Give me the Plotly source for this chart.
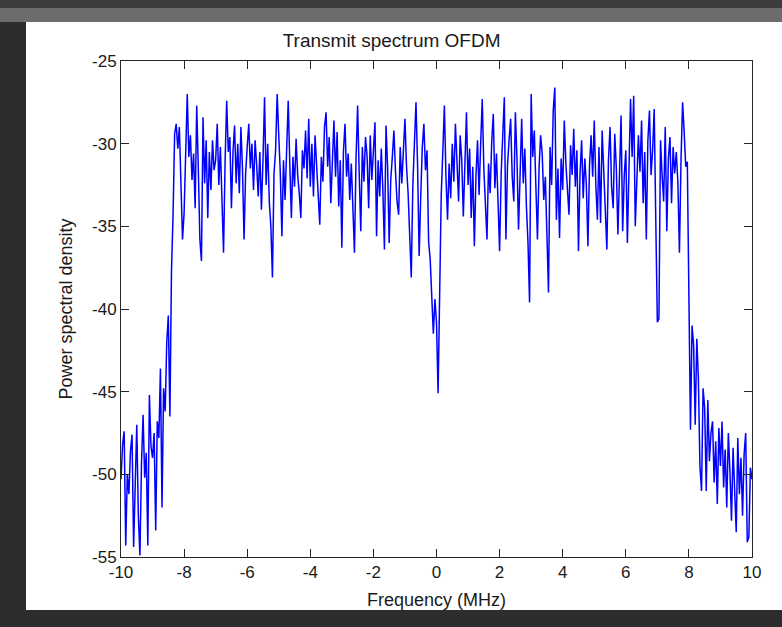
import numpy as np
import plotly.graph_objects as go

# ---------------- data ----------------
freq_start = -10.0   # MHz
freq_step = 0.05     # MHz

psd = [
    # -10.00 .. -9.05
    -50.3, -48.2, -47.4, -54.3, -50.0, -51.2, -48.6, -47.6, -54.4, -49.8,
    -47.0, -52.5, -54.9, -49.3, -46.4, -50.2, -48.7, -54.3, -45.2, -48.3,
    # -9.00 .. -8.05
    -49.0, -47.5, -53.4, -46.8, -47.8, -43.6, -52.0, -44.8, -46.2, -42.0,
    -40.4, -46.5, -37.7, -34.3, -29.4, -28.8, -30.3, -29.0, -32.6, -35.8,
    # -8.00 .. -7.05
    -34.2, -30.0, -27.0, -30.8, -29.5, -32.2, -30.6, -33.9, -27.7, -31.5,
    -35.8, -37.1, -28.4, -32.4, -29.8, -34.5, -30.5, -32.8, -29.8, -31.6,
    # -7.00 .. -6.05
    -31.0, -28.8, -32.5, -30.2, -33.5, -36.6, -31.0, -27.4, -30.5, -29.6,
    -33.9, -30.5, -28.9, -32.4, -30.0, -33.0, -29.0, -31.5, -35.8, -31.8,
    # -6.00 .. -5.05
    -30.2, -28.8, -31.5, -30.0, -32.8, -29.8, -31.3, -33.2, -30.5, -34.0,
    -31.0, -27.2, -32.5, -30.0, -33.5, -35.0, -38.1, -31.8, -30.4, -27.0,
    # -5.00 .. -4.05
    -29.5, -31.8, -35.6, -31.0, -33.4, -29.6, -27.4, -31.2, -34.5, -30.8,
    -32.6, -29.7, -31.9, -33.0, -34.5, -30.4, -31.5, -29.2, -32.1, -28.5,
    # -4.00 .. -3.05
    -32.6, -30.0, -33.2, -29.5, -31.6, -32.9, -34.9, -30.8, -32.3, -29.0,
    -28.1, -31.4, -29.6, -33.6, -31.2, -28.6, -32.0, -29.3, -33.8, -31.0,
    # -3.00 .. -2.05
    -36.3, -30.5, -28.8, -32.0, -30.6, -33.4, -31.2, -34.4, -36.6, -30.9,
    -27.7, -31.8, -35.3, -30.2, -32.3, -29.6, -30.8, -33.9, -29.5, -32.2,
    # -2.00 .. -1.05
    -30.4, -28.7, -35.6, -31.0, -33.2, -30.3, -32.8, -36.4, -28.9, -31.4,
    -36.0, -32.2, -30.8, -29.2, -31.7, -33.5, -34.3, -30.2, -32.4, -30.5,
    # -1.00 .. -0.05
    -28.5, -31.4, -33.0, -35.5, -38.1, -32.5, -29.6, -27.5, -31.3, -36.8,
    -33.2, -30.2, -28.8, -31.6, -30.4, -35.9, -37.0, -38.9, -41.5, -39.4,
    # 0.00 .. 0.95
    -40.8, -45.1, -39.6, -33.1, -30.5, -27.7, -32.0, -34.6, -31.2, -33.3,
    -30.0, -32.3, -28.8, -31.8, -33.5, -29.5, -31.0, -34.4, -31.6, -28.1,
    # 1.00 .. 1.95
    -32.5, -30.3, -34.5, -31.4, -36.2, -32.0, -29.8, -33.1, -30.0, -27.3,
    -31.5, -34.0, -35.8, -31.2, -33.0, -29.9, -28.2, -32.7, -30.6, -33.5,
    # 2.00 .. 2.95
    -36.5, -31.8, -29.4, -27.2, -35.8, -31.3, -29.8, -28.5, -32.0, -33.5,
    -28.1, -30.9, -35.2, -31.0, -28.5, -32.4, -30.3, -33.8, -36.0, -39.6,
    # 3.00 .. 3.95
    -27.0, -30.8, -29.2, -32.6, -35.8, -31.5, -29.5, -30.6, -33.4, -32.0,
    -36.2, -39.0, -30.2, -32.5, -28.0, -26.6, -34.6, -31.5, -35.7, -30.9,
    # 4.00 .. 4.95
    -32.8, -28.6, -31.2, -33.0, -34.3, -30.1, -31.9, -29.1, -32.6, -30.4,
    -36.5, -31.8, -29.8, -33.3, -30.9, -32.5, -36.2, -31.3, -29.5, -32.0,
    # 5.00 .. 5.95
    -28.6, -32.5, -34.6, -30.2, -34.8, -29.2, -31.8, -33.5, -36.4, -31.0,
    -29.0, -32.6, -33.9, -29.4, -31.5, -35.5, -30.8, -28.3, -35.3, -32.0,
    # 6.00 .. 6.95
    -30.4, -36.0, -31.6, -27.3, -30.8, -27.1, -35.0, -32.2, -29.5, -31.7,
    -28.6, -33.6, -30.5, -35.8, -29.8, -28.0, -31.9, -30.4, -27.9, -34.6,
    # 7.00 .. 7.95
    -40.8, -40.6, -29.8, -31.9, -33.5, -29.0, -35.3, -30.9, -29.6, -33.6,
    -30.2, -31.8, -30.5, -32.3, -36.6, -31.0, -27.5, -29.3, -31.4, -31.1,
    # 8.00 .. 8.95
    -40.8, -47.3, -41.0, -42.2, -47.0, -41.8, -44.2, -49.5, -51.0, -44.8,
    -46.0, -51.0, -45.5, -49.2, -47.5, -46.8, -50.5, -48.0, -51.8, -47.2,
    # 9.00 .. 10.00
    -49.5, -46.8, -50.8, -48.5, -52.0, -47.5, -49.8, -52.8, -48.4, -50.5,
    -53.5, -47.8, -51.2, -49.0, -52.5, -48.8, -47.5, -54.1, -53.8, -49.6,
    -50.3,
]

x_ticks = [-10, -8, -6, -4, -2, 0, 2, 4, 6, 8, 10]
x_tick_labels = ["-10", "-8", "-6", "-4", "-2", "0", "2", "4", "6", "8", "10"]
y_ticks = [-55, -50, -45, -40, -35, -30, -25]
y_tick_labels = ["-55", "-50", "-45", "-40", "-35", "-30", "-25"]

title_text = "Transmit spectrum OFDM"
x_title = "Frequency (MHz)"
y_title = "Power spectral density"

freq = np.round(freq_start + freq_step * np.arange(len(psd)), 4)

# ---------------- layout geometry ----------------
W, H = 782, 627
L, R, T, B = 121, 30, 61, 70
PW, PH = W - L - R, H - T - B


def px(xp):
    return (xp - L) / PW


def py(yp):
    return (H - B - yp) / PH


FONT = "Liberation Sans, Arial, Helvetica, sans-serif"
AX = "#262626"

fig = go.Figure()
fig.add_trace(go.Scatter(
    x=freq, y=psd, mode="lines",
    line=dict(color="#0000ff", width=1.5),
    hoverinfo="skip", showlegend=False,
))

shapes = [
    # grey textured band at the top of the photo
    dict(type="rect", xref="paper", yref="paper", layer="below",
         x0=px(0), x1=px(W), y0=py(22), y1=py(0),
         fillcolor="#6c6c6c", line=dict(width=0)),
    dict(type="rect", xref="paper", yref="paper", layer="below",
         x0=px(0), x1=px(W), y0=py(8), y1=py(0),
         fillcolor="#3c3c3c", line=dict(width=0)),
    # white figure panel
    dict(type="rect", xref="paper", yref="paper", layer="below",
         x0=px(26), x1=px(W + 5), y0=py(610), y1=py(22),
         fillcolor="#ffffff", line=dict(width=0)),
]

axis_common = dict(
    showline=True, linecolor=AX, linewidth=1, mirror="allticks",
    ticks="inside", ticklen=8, tickcolor=AX, tickwidth=1,
    showgrid=False, zeroline=False,
    tickfont=dict(family=FONT, size=17, color="#1a1a1a"),
)

fig.update_layout(
    width=W, height=H,
    margin=dict(l=L, r=R, t=T, b=B, autoexpand=False),
    paper_bgcolor="#2d2d2d",
    plot_bgcolor="#ffffff",
    shapes=shapes,
    font=dict(family=FONT, color="#1a1a1a"),
    title=dict(text=title_text, x=px(437), xanchor="center",
               y=1 - 40 / H, yanchor="middle", yref="container",
               font=dict(family=FONT, size=19, color="#1a1a1a")),
    xaxis=dict(range=[-10, 10], tickvals=x_ticks, ticktext=x_tick_labels,
               title=dict(text=x_title, standoff=11,
                          font=dict(family=FONT, size=18, color="#1a1a1a")),
               **axis_common),
    yaxis=dict(range=[-55, -25], tickvals=y_ticks, ticktext=y_tick_labels,
               title=dict(text=y_title, standoff=14,
                          font=dict(family=FONT, size=18, color="#1a1a1a")),
               **axis_common),
)

fig.write_html(
    "out.html",
    config={"displayModeBar": False},
    post_script="document.body.style.margin='0';document.body.style.overflow='hidden';",
)
